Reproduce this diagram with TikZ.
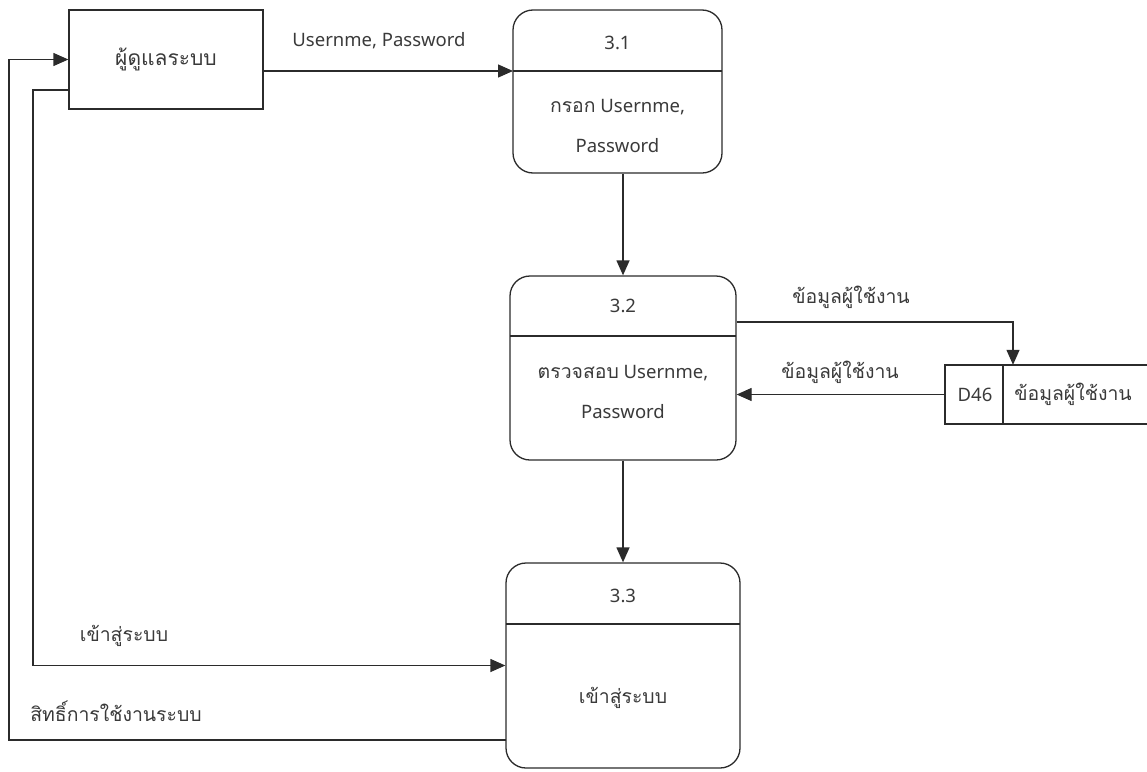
\documentclass[tikz,border=0pt]{standalone}
\usepackage{fontspec}
\setmainfont{Noto Sans}
\newfontfamily\thai[Script=Thai,Scale=1.05]{Loma}
\usetikzlibrary{arrows.meta,calc}
\definecolor{ln}{HTML}{2B2B2B}
\definecolor{tx}{HTML}{3A3A3A}
\tikzset{
  every node/.style={text=tx, font=\fontsize{18.5}{22}\selectfont, inner sep=0pt},
  line/.style={draw=ln, line width=1.3pt},
  arr/.style={line, -{Triangle[length=15pt,width=13pt]}},
  proc/.style={line, rounded corners=20pt, fill=white},
  ent/.style={line, fill=white},
  lbl/.style={align=center},
}
\begin{document}
\begin{tikzpicture}[x=1pt,y=-1pt]
\useasboundingbox (0,0) rectangle (1147,771);
% entity
\node[ent, minimum width=194pt, minimum height=99pt] (admin) at (166,59.5) {\thai\fontsize{20}{22}\selectfont ผู้ดูแลระบบ};
% process 3.1
\node[proc, minimum width=209pt, minimum height=163pt] (p1) at (617.5,91.5) {};
\coordinate (d1w) at (513,71);
\coordinate (d1e) at (722,71);
\draw[line] (d1w) -- (d1e);
\node (p1n) at (617.5,43) {3.1};
\node[lbl] (p1t) at (617.5,126) {{\thai กรอก} Usernme,\\[18pt] Password};
% process 3.2
\node[proc, minimum width=226pt, minimum height=184pt] (p2) at (623,368) {};
\coordinate (d2w) at (510,336);
\coordinate (d2e) at (736,336);
\draw[line] (d2w) -- (d2e);
\node (p2n) at (623,306) {3.2};
\node[lbl] (p2t) at (623,392) {{\thai ตรวจสอบ} Usernme,\\[18pt] Password};
% process 3.3
\node[proc, minimum width=234pt, minimum height=205pt] (p3) at (623,665.5) {};
\coordinate (d3w) at (506,624);
\coordinate (d3e) at (740,624);
\draw[line] (d3w) -- (d3e);
\node (p3n) at (623,596) {3.3};
\node (p3t) at (623,698) {\thai เข้าสู่ระบบ};
% data store
\coordinate (sA) at (945,365);
\coordinate (sB) at (1147,365);
\coordinate (sC) at (1147,424);
\coordinate (sD) at (945,424);
\node[minimum width=202pt, minimum height=59pt] (store) at (1046,394.5) {};
\draw[line] (sB) -- (sA) -- (sD) -- (sC);
\coordinate (sdt) at (1003,365);
\coordinate (sdb) at (1003,424);
\draw[line] (sdt) -- (sdb);
\node (sid) at (975,394.5) {D46};
\node (sname) at (1073,394.5) {\thai ข้อมูลผู้ใช้งาน};
% connectors
\draw[arr] (admin.east |- d1w) -- (d1w);
\node (l1) at (379,41) {Usernme, Password};
\draw[arr] (p1.south -| p2.north) -- (p2.north);
\coordinate (k1) at (1013,322);
\draw[arr] (p2.east |- k1) -- (k1) -- (k1 |- store.north);
\node (l2) at (851,297) {\thai ข้อมูลผู้ใช้งาน};
\draw[arr] (store.west) -- (store.west -| p2.east);
\node (l3) at (840,372) {\thai ข้อมูลผู้ใช้งาน};
\draw[arr] (p2.south) -- (p3.north);
\coordinate (a1) at (69,90);
\coordinate (a2) at (33,90);
\draw[arr] (a1) -- (a2) |- (p3.west);
\node (l4) at (124,636) {\thai เข้าสู่ระบบ};
\coordinate (b1) at (506,740);
\coordinate (b2) at (9,740);
\draw[arr] (b1) -- (b2) |- (admin.west);
\node (l5) at (116,711) {\thai สิทธิ์การใช้งานระบบ};
\end{tikzpicture}
\end{document}
